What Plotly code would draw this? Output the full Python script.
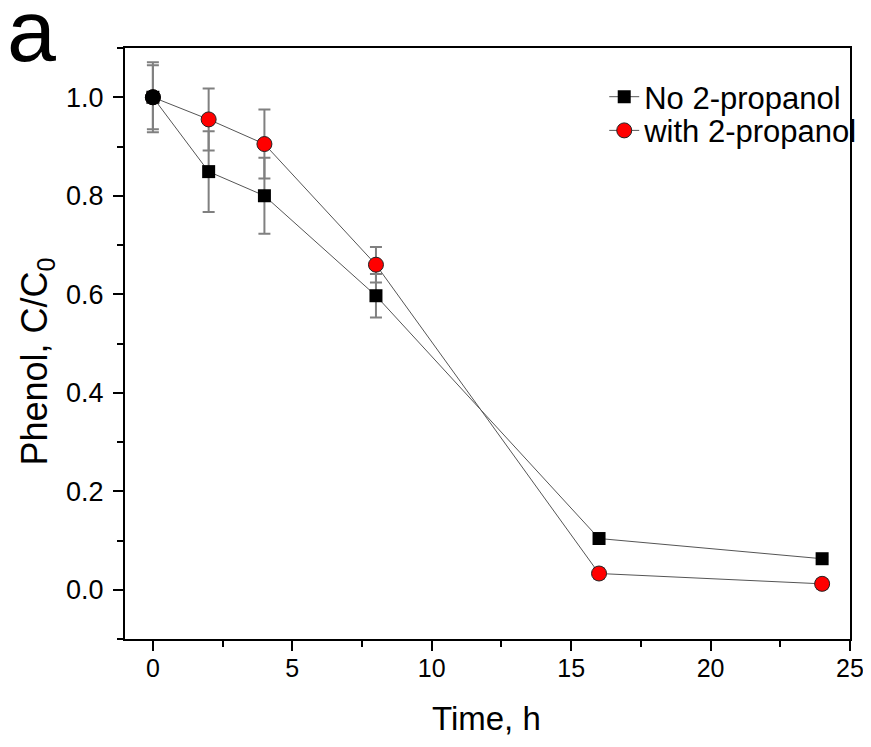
import plotly.graph_objects as go

# Data
time_h = [0, 2, 4, 8, 16, 24]
no_propanol = [1.0, 0.849, 0.800, 0.597, 0.104, 0.063]
no_propanol_err = [0.065, 0.082, 0.077, 0.044, 0.004, 0.004]
with_propanol = [1.0, 0.955, 0.905, 0.660, 0.033, 0.012]
with_propanol_err = [0.071, 0.063, 0.070, 0.036, 0.010, 0.010]

x_ticks = [0, 5, 10, 15, 20, 25]
y_ticks = [0.0, 0.2, 0.4, 0.6, 0.8, 1.0]

FONT = "Liberation Sans, Arial, sans-serif"

fig = go.Figure()

fig.add_trace(go.Scatter(
    x=time_h, y=no_propanol, name="No 2-propanol", mode="lines+markers",
    legend="legend",
    line=dict(color="#555555", width=1),
    marker=dict(symbol="square", size=13, color="black", line=dict(width=0)),
    error_y=dict(type="data", array=no_propanol_err, visible=True,
                 color="#808080", thickness=2, width=6),
))
fig.add_trace(go.Scatter(
    x=time_h, y=with_propanol, name="with 2-propanol", mode="lines+markers",
    legend="legend2",
    line=dict(color="#555555", width=1),
    marker=dict(symbol="circle", size=15, color="#ff0000",
                line=dict(color="#222222", width=1)),
    error_y=dict(type="data", array=with_propanol_err, visible=True,
                 color="#808080", thickness=2, width=6),
))
# first point of the second series is drawn black in the original
fig.add_trace(go.Scatter(
    x=time_h[:1], y=with_propanol[:1], mode="markers", showlegend=False,
    marker=dict(symbol="circle", size=15, color="black",
                line=dict(color="black", width=1)),
))

legend_common = dict(xanchor="left", yanchor="middle",
                     font=dict(size=31, family=FONT), bgcolor="rgba(0,0,0,0)")

# page has an 8px body margin, so the figure is sized to fit inside the window
fig.update_layout(
    width=855, height=731,
    margin=dict(l=117, r=13, t=40, b=100, autoexpand=False),
    paper_bgcolor="white", plot_bgcolor="white",
    font=dict(family=FONT, color="black"),
    showlegend=True,
    legend=dict(x=0.661, y=0.917, **legend_common),
    legend2=dict(x=0.661, y=0.860, **legend_common),
    annotations=[
        dict(text="a", x=-0.166, y=1.03, xref="paper", yref="paper",
             xanchor="left", yanchor="middle", showarrow=False,
             font=dict(size=88, family=FONT)),
        dict(text="Time, h", x=0.499, y=-0.135, xref="paper", yref="paper",
             xanchor="center", yanchor="middle", showarrow=False,
             font=dict(size=33, family=FONT)),
        dict(text="Phenol, C/C<sub>0</sub>", x=-0.121, y=0.470, xref="paper", yref="paper",
             xanchor="center", yanchor="middle", showarrow=False, textangle=-90,
             font=dict(size=36, family=FONT)),
    ],
)

fig.update_xaxes(
    range=[-1, 25], tickvals=x_ticks, ticks="outside", ticklen=10, tickwidth=2,
    tickcolor="black", showline=True, linewidth=2, linecolor="black", mirror=True,
    showgrid=False, zeroline=False, tickfont=dict(size=25, family=FONT),
    ticklabelstandoff=-4, automargin=False, ticklabeloverflow="allow",
    minor=dict(dtick=2.5, ticks="outside", ticklen=6, tickwidth=2, tickcolor="black", showgrid=False),
)
fig.update_yaxes(
    range=[-0.1, 1.1], tickvals=y_ticks, ticktext=[f"{v:.1f}" for v in y_ticks],
    ticks="outside", ticklen=10, tickwidth=2,
    tickcolor="black", showline=True, linewidth=2, linecolor="black", mirror=True,
    showgrid=False, zeroline=False, tickfont=dict(size=27, family=FONT),
    ticklabelstandoff=4, automargin=False, ticklabeloverflow="allow",
    minor=dict(dtick=0.1, ticks="outside", ticklen=6, tickwidth=2, tickcolor="black", showgrid=False),
)

fig.write_html("out.html")
